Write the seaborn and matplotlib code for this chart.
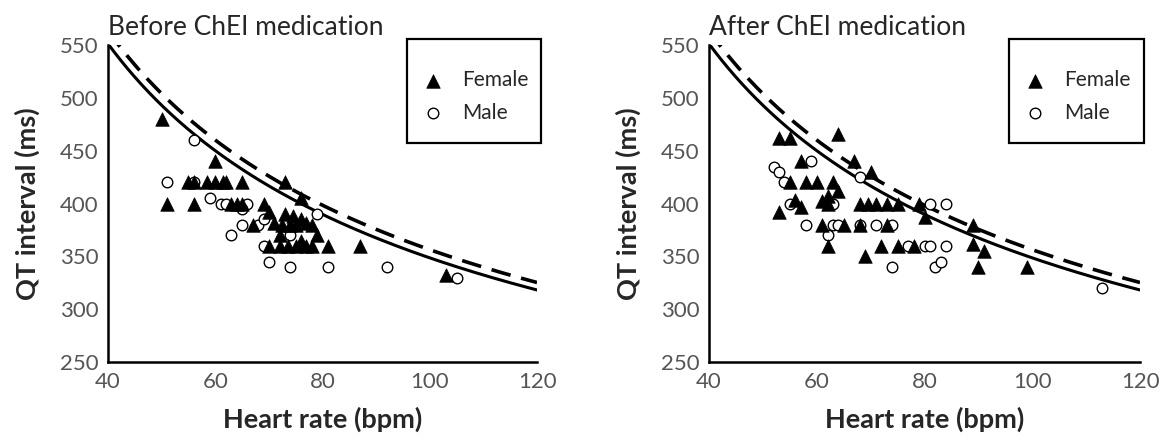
import numpy as np
import pandas as pd
import matplotlib
matplotlib.use('Agg')
import matplotlib.pyplot as plt
import matplotlib.patches as mpatches
import seaborn as sns

# Before ChEI medication
before_female_hr = [50, 60, 55, 56, 58.5, 60, 61.5, 62, 65, 73,
                    51, 56, 63, 64, 65, 69, 76,
                    70, 73, 74.5, 76, 67, 71, 72.5, 74, 75, 77, 78,
                    72, 79, 76, 70, 72, 73.5, 75, 76, 77, 78, 81, 87, 103]
before_female_qt = [480, 440, 420, 420, 420, 420, 420, 420, 420, 420,
                    400, 400, 400, 400, 400, 400, 405,
                    392, 390, 388, 385, 380, 382, 380, 380, 380, 382, 380,
                    370, 370, 365, 360, 360, 360, 360, 362, 360, 360, 360, 360, 332]
before_male_hr = [56, 51, 56, 59, 61, 62, 66, 65, 65, 68, 69, 63, 69, 70,
                  74, 74, 79, 81, 92, 105]
before_male_qt = [460, 420, 420, 405, 400, 400, 400, 395, 380, 380, 385, 370, 360, 345,
                  370, 340, 390, 340, 340, 330]

# After ChEI medication
after_female_hr = [53, 55, 64, 57, 67, 70, 55, 58, 60, 63, 64,
                   61, 62, 62, 56, 57, 53, 68, 69.5, 71, 73, 75, 79, 80,
                   61, 65, 68, 73, 89, 62, 72, 75, 78, 89, 91, 69, 90, 99]
after_female_qt = [462, 462, 466, 440, 440, 430, 420, 420, 420, 420, 412,
                   402, 407, 400, 403, 397, 392, 400, 400, 400, 400, 400, 400, 387,
                   380, 380, 380, 380, 380, 360, 360, 360, 360, 362, 355, 350, 340, 340]
after_male_hr = [52, 53, 54, 59, 55, 58, 63, 62, 63, 64, 68, 68, 71, 74, 74,
                 77, 80, 81, 81, 84, 84, 82, 83, 113]
after_male_qt = [435, 430, 420, 440, 400, 380, 400, 370, 380, 380, 425, 380, 380, 380, 340,
                 360, 360, 360, 400, 400, 360, 340, 345, 320]

# Bazett QTc thresholds (ms) drawn as reference curves
qtc_solid = 450
qtc_dashed = 460

panel_titles = ['Before ChEI medication', 'After ChEI medication']

FONT = ['Lato', 'DejaVu Sans']


def build_df():
    rows = []
    groups = [
        (panel_titles[0], 'Female', before_female_hr, before_female_qt),
        (panel_titles[0], 'Male', before_male_hr, before_male_qt),
        (panel_titles[1], 'Female', after_female_hr, after_female_qt),
        (panel_titles[1], 'Male', after_male_hr, after_male_qt),
    ]
    for period, sex, hr_list, qt_list in groups:
        for hr, qt in zip(hr_list, qt_list):
            rows.append({'Period': period, 'Sex': sex, 'HR': hr, 'QT': qt})
    return pd.DataFrame(rows)


def draw_panel(ax, df, title):
    hr_grid = np.linspace(40, 120, 400)
    ax.plot(hr_grid, qtc_solid * np.sqrt(60.0 / hr_grid), color='black', lw=2.2, zorder=1)
    ax.plot(hr_grid, qtc_dashed * np.sqrt(60.0 / hr_grid), color='black', lw=2.6,
            dashes=(5.5, 3.0), zorder=1)

    female = df[df['Sex'] == 'Female']
    male = df[df['Sex'] == 'Male']
    sns.scatterplot(data=female, x='HR', y='QT', marker='^', s=95, color='black',
                    edgecolor='black', linewidth=0.5, ax=ax, label='Female', zorder=3)
    sns.scatterplot(data=male, x='HR', y='QT', marker='o', s=58, facecolor='white',
                    edgecolor='black', linewidth=1.0, ax=ax, label='Male', zorder=2)

    ax.set_xlim(40, 120)
    ax.set_ylim(250, 550)
    ax.set_xticks([40, 60, 80, 100, 120])
    ax.set_yticks([250, 300, 350, 400, 450, 500, 550])
    ax.set_xlabel('Heart rate (bpm)', fontsize=19.5, fontweight='bold', labelpad=11)
    ax.set_ylabel('QT interval (ms)', fontsize=19.5, fontweight='bold', labelpad=14)
    ax.set_title(title, loc='left', fontsize=19, pad=7)

    for side in ['top', 'right']:
        ax.spines[side].set_visible(False)
    for side in ['left', 'bottom']:
        ax.spines[side].set_linewidth(1.8)
        ax.spines[side].set_color('black')
    ax.tick_params(axis='both', direction='out', length=5, width=1.6, color='black',
                   labelsize=16, labelcolor='#555555', pad=2)

    # legend entries without frame, box drawn separately (tighter right margin)
    ax.legend(loc='center left', bbox_to_anchor=(0.733, 0.837), fontsize=15,
              frameon=False, borderpad=0, labelspacing=0.6, handlelength=1.0,
              handletextpad=0.9, borderaxespad=0)
    box = mpatches.Rectangle((0.697, 0.691), 0.312, 0.328, transform=ax.transAxes,
                             fill=False, edgecolor='black', lw=1.6, clip_on=False)
    ax.add_patch(box)


def main():
    sns.set_style('white')
    plt.rcParams['font.family'] = FONT
    df = build_df()

    fig = plt.figure(figsize=(11.64, 4.41), dpi=100)
    ax1 = fig.add_axes([0.0928, 0.179, 0.3686, 0.719])
    ax2 = fig.add_axes([0.6091, 0.179, 0.3703, 0.719])

    draw_panel(ax1, df[df['Period'] == panel_titles[0]], panel_titles[0])
    draw_panel(ax2, df[df['Period'] == panel_titles[1]], panel_titles[1])

    fig.savefig('out.png', dpi=100)
    plt.close(fig)


if __name__ == '__main__':
    main()
